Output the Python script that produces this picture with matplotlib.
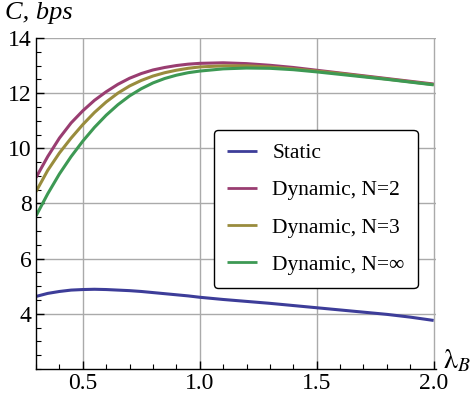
import matplotlib
matplotlib.use('Agg')
import matplotlib.pyplot as plt
from matplotlib.ticker import MultipleLocator

plt.rcParams['font.family'] = ['Liberation Serif', 'DejaVu Serif']
plt.rcParams['mathtext.fontset'] = 'stix'

lam = [0.3, 0.35, 0.4, 0.45, 0.5, 0.55, 0.6, 0.65, 0.7, 0.75, 0.8, 0.85, 0.9, 0.95,
       1.0, 1.1, 1.2, 1.3, 1.4, 1.5, 1.6, 1.7, 1.8, 1.9, 2.0]
static = [4.63, 4.74, 4.81, 4.86, 4.88, 4.89, 4.88, 4.86, 4.84, 4.81, 4.77, 4.73, 4.69, 4.65,
          4.60, 4.52, 4.45, 4.38, 4.30, 4.22, 4.14, 4.06, 3.98, 3.88, 3.76]
dyn_n2 = [8.94, 9.70, 10.37, 10.92, 11.36, 11.74, 12.05, 12.32, 12.54, 12.71, 12.84, 12.93, 13.00, 13.05,
          13.08, 13.10, 13.07, 13.01, 12.93, 12.83, 12.73, 12.63, 12.53, 12.43, 12.33]
dyn_n3 = [8.43, 9.20, 9.83, 10.37, 10.86, 11.30, 11.68, 12.00, 12.26, 12.46, 12.62, 12.74, 12.83, 12.90,
          12.95, 12.99, 12.99, 12.95, 12.88, 12.80, 12.71, 12.61, 12.51, 12.41, 12.31]
dyn_inf = [7.55, 8.35, 9.07, 9.70, 10.26, 10.76, 11.20, 11.58, 11.90, 12.16, 12.37, 12.53, 12.65, 12.74,
           12.80, 12.88, 12.91, 12.90, 12.85, 12.77, 12.68, 12.59, 12.50, 12.40, 12.30]

labels = ['Static', 'Dynamic, N=2', 'Dynamic, N=3', 'Dynamic, N=\u221e']
colors = ['#3d3d99', '#993d71', '#998c3d', '#3d9954']

fig = plt.figure(figsize=(4.77, 3.98), dpi=100)
ax = fig.add_axes([0.0755, 0.0729, 0.8385, 0.8317])

for ys, lab, c in zip([static, dyn_n2, dyn_n3, dyn_inf], labels, colors):
    ax.plot(lam, ys, color=c, lw=2.2, label=lab, solid_capstyle='butt', solid_joinstyle='round')

ax.set_xlim(0.3, 2.01)
ax.set_ylim(2, 14)
ax.xaxis.set_minor_locator(MultipleLocator(0.1))
ax.yaxis.set_minor_locator(MultipleLocator(0.5))
ax.set_yticks([4, 6, 8, 10, 12, 14])
ax.set_xticks([0.5, 1.0, 1.5, 2.0])
ax.set_xticklabels(['0.5', '1.0', '1.5', '2.0'])
ax.grid(True, which='major', color='#aaaaaa', lw=1)
ax.set_axisbelow(True)
for s in ['top', 'right']:
    ax.spines[s].set_visible(False)
for s in ['left', 'bottom']:
    ax.spines[s].set_linewidth(1.0)
ax.tick_params(which='major', direction='in', length=6, width=1, labelsize=17, pad=3)
ax.tick_params(which='minor', direction='in', length=3.5, width=0.8)

fig.text(0.01, 0.995, 'C, bps', style='italic', fontsize=19, ha='left', va='top')
fig.text(0.928, 0.06, r'$\mathrm{\lambda}_{B}$', fontsize=20, ha='left', va='bottom')

leg = ax.legend(loc='upper left', bbox_to_anchor=(0.449, 0.673), bbox_transform=fig.transFigure,
                fontsize=15.5, frameon=True, fancybox=True, edgecolor='black', framealpha=1,
                handlelength=1.4, handletextpad=0.7, labelspacing=0.8, borderpad=0.6, borderaxespad=0)
leg.get_frame().set_linewidth(1.0)
for line in leg.get_lines():
    line.set_linewidth(2.0)

fig.savefig('out.png', dpi=100)
